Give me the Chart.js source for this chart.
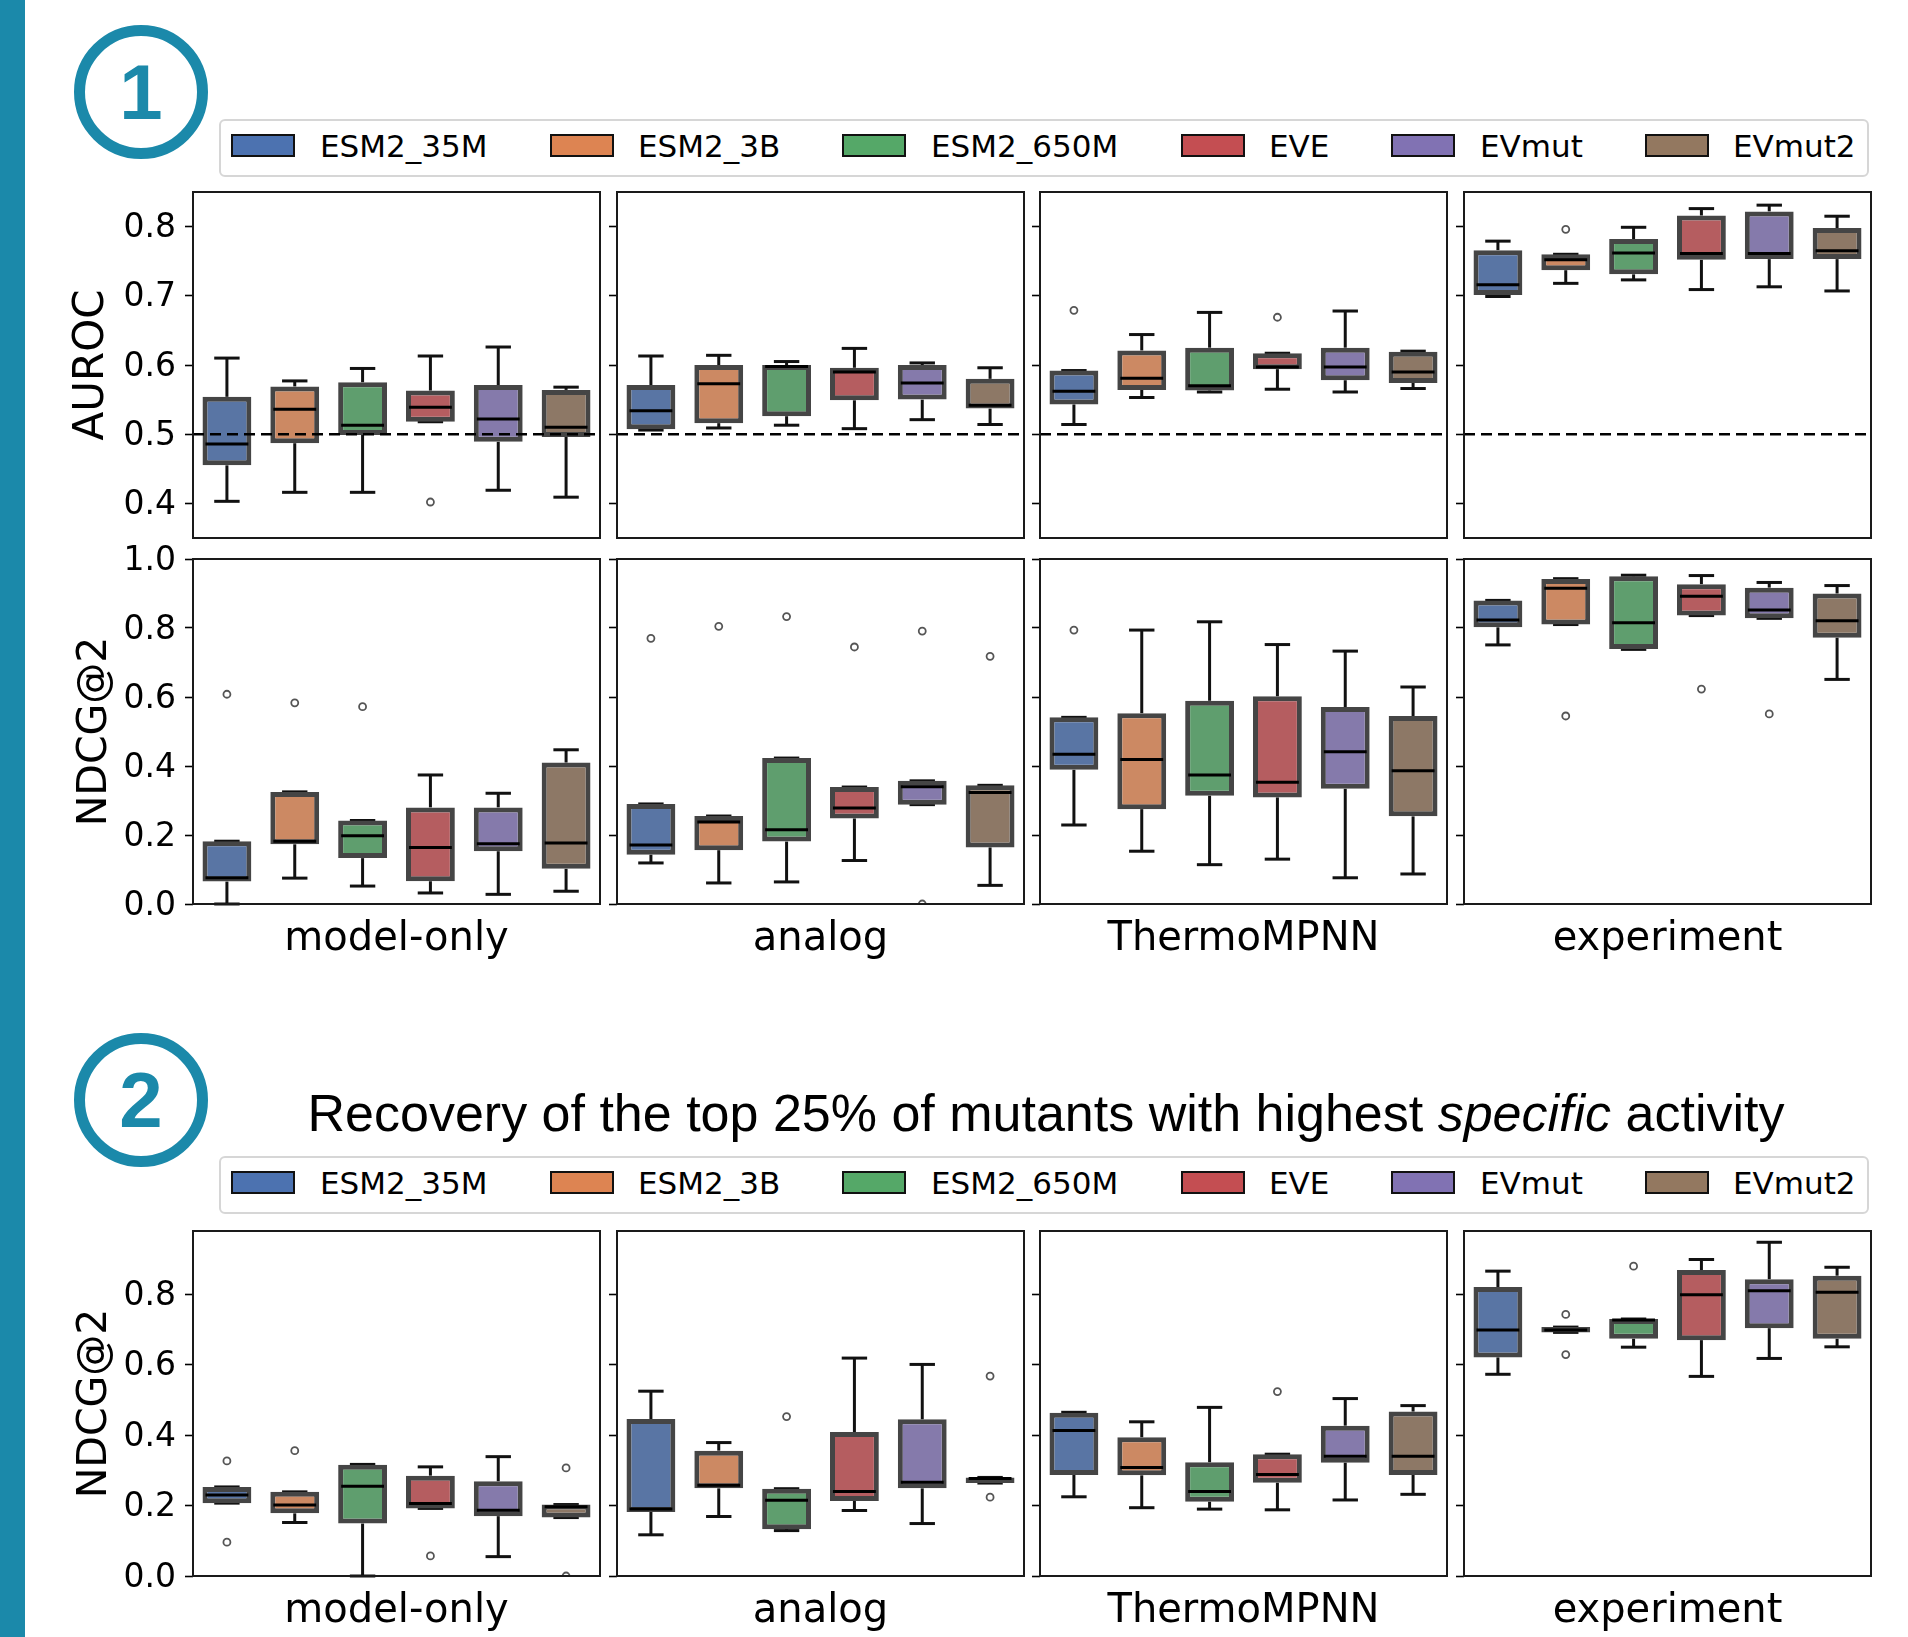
<!DOCTYPE html>
<html><head><meta charset="utf-8">
<script src="https://cdn.jsdelivr.net/npm/chart.js@4.4.0/dist/chart.umd.min.js"></script>
<style>
html,body{margin:0;padding:0;background:#fff;}
body{width:1908px;height:1637px;position:relative;overflow:hidden;font-family:'DejaVu Sans',sans-serif;}
.sidebar{position:absolute;left:0;top:0;width:25px;height:1637px;background:#1b89aa;}
.circ{position:absolute;left:74px;width:134px;height:134px;box-sizing:border-box;border:11px solid #1b89aa;border-radius:50%;display:flex;align-items:center;justify-content:center;color:#1b89aa;font-family:'Liberation Sans',Arial,sans-serif;font-weight:bold;font-size:78px;line-height:1;}
.legend{position:absolute;left:219px;width:1650px;height:58px;box-sizing:border-box;border:2px solid #d6d6d6;border-radius:6px;background:#fff;}
.sw{position:absolute;top:13px;width:64px;height:23px;box-sizing:border-box;border:2px solid #111;}
.lt{position:absolute;top:10px;font-size:31px;line-height:1;color:#000;white-space:nowrap;}
.title{position:absolute;top:1087px;left:1046px;transform:translateX(-50%);font-family:'Liberation Sans',Arial,sans-serif;font-size:52px;line-height:1;white-space:nowrap;color:#000;}
canvas{position:absolute;}
</style>
</head><body>
<div class="sidebar"></div>
<div class="circ" style="top:25px">1</div>
<div class="circ" style="top:1033px">2</div>
<div class="title">Recovery of the top 25% of mutants with highest <i>specific</i> activity</div>
<script>
// ---- categories / labels ----
const MODELS = ['ESM2_35M','ESM2_3B','ESM2_650M','EVE','EVmut','EVmut2'];
const METHODS = ['model-only','analog','ThermoMPNN','experiment'];
const LEGEND_COLORS = ['#4c72b0','#dd8452','#55a868','#c44e52','#8172b3','#937860'];
const BOX_COLORS = ['#5975a4','#cc8963','#5f9e6e','#b55d60','#857aab','#8d7866'];
const AUROC_TICKS = [0.4,0.5,0.6,0.7,0.8];
const NDCG_TICKS = [0.0,0.2,0.4,0.6,0.8,1.0];
const SPEC_TICKS = [0.0,0.2,0.4,0.6,0.8];

// ---- box statistics per model: [lower whisker, Q1, median, Q3, upper whisker] ----
// Section 1, AUROC
const auroc_model_only = [[0.403,0.455,0.486,0.554,0.610],[0.416,0.487,0.536,0.569,0.577],[0.416,0.499,0.513,0.575,0.595],[0.518,0.518,0.539,0.563,0.613],[0.419,0.489,0.522,0.571,0.626],[0.409,0.496,0.510,0.564,0.568]];
const auroc_model_only_out = [[],[],[],[0.402],[],[]];
const auroc_analog = [[0.506,0.507,0.534,0.571,0.613],[0.509,0.516,0.573,0.600,0.614],[0.513,0.526,0.598,0.600,0.605],[0.508,0.549,0.590,0.596,0.624],[0.521,0.550,0.574,0.600,0.603],[0.514,0.537,0.542,0.580,0.596]];
const auroc_analog_out = [[],[],[],[],[],[]];
const auroc_thermompnn = [[0.514,0.543,0.562,0.592,0.592],[0.553,0.564,0.581,0.621,0.644],[0.561,0.563,0.570,0.625,0.676],[0.565,0.594,0.597,0.617,0.617],[0.561,0.578,0.597,0.625,0.678],[0.566,0.574,0.590,0.619,0.620]];
const auroc_thermompnn_out = [[0.679],[],[],[0.669],[],[]];
const auroc_experiment = [[0.699,0.701,0.716,0.766,0.779],[0.718,0.737,0.752,0.760,0.760],[0.723,0.731,0.762,0.782,0.799],[0.709,0.752,0.761,0.816,0.826],[0.713,0.753,0.761,0.822,0.831],[0.707,0.753,0.765,0.798,0.815]];
const auroc_experiment_out = [[],[0.796],[],[],[],[]];
// Section 1, NDCG@2
const ndcg_model_only = [[0.0,0.065,0.076,0.182,0.182],[0.075,0.173,0.182,0.325,0.325],[0.052,0.133,0.198,0.242,0.242],[0.032,0.066,0.164,0.280,0.374],[0.028,0.153,0.175,0.280,0.321],[0.037,0.102,0.177,0.410,0.447]];
const ndcg_model_only_out = [[0.608],[0.583],[0.572],[],[],[]];
const ndcg_analog = [[0.119,0.143,0.171,0.290,0.290],[0.061,0.156,0.238,0.255,0.255],[0.064,0.181,0.215,0.423,0.423],[0.126,0.248,0.278,0.339,0.339],[0.288,0.288,0.340,0.357,0.357],[0.054,0.164,0.323,0.344,0.344]];
const ndcg_analog_out = [[0.770],[0.805],[0.833],[0.745],[0.791,0.0],[0.718]];
const ndcg_thermompnn = [[0.229,0.389,0.434,0.541,0.541],[0.153,0.275,0.419,0.553,0.794],[0.114,0.314,0.374,0.589,0.818],[0.130,0.309,0.353,0.602,0.752],[0.076,0.334,0.441,0.571,0.733],[0.087,0.254,0.386,0.545,0.629]];
const ndcg_thermompnn_out = [[0.794],[],[],[],[],[]];
const ndcg_experiment = [[0.751,0.802,0.823,0.880,0.880],[0.810,0.810,0.915,0.942,0.943],[0.738,0.739,0.815,0.950,0.953],[0.836,0.836,0.892,0.927,0.952],[0.828,0.828,0.852,0.917,0.932],[0.651,0.772,0.821,0.900,0.923]];
const ndcg_experiment_out = [[],[0.545],[],[0.623],[0.551],[]];
// Section 2, NDCG@2 (specific activity)
const spec_model_only = [[0.207,0.207,0.230,0.253,0.253],[0.152,0.178,0.202,0.239,0.239],[0.0,0.149,0.255,0.316,0.317],[0.192,0.192,0.206,0.285,0.310],[0.055,0.170,0.187,0.269,0.339],[0.166,0.166,0.197,0.203,0.203]];
const spec_model_only_out = [[0.327,0.096],[0.356],[],[0.057],[],[0.307,0.0]];
const spec_analog = [[0.117,0.182,0.190,0.446,0.525],[0.169,0.249,0.258,0.356,0.379],[0.129,0.133,0.215,0.248,0.248],[0.186,0.213,0.240,0.409,0.619],[0.149,0.249,0.266,0.445,0.601],[0.264,0.264,0.277,0.280,0.280]];
const spec_analog_out = [[],[],[0.453],[],[],[0.568,0.224]];
const spec_thermompnn = [[0.225,0.287,0.413,0.464,0.465],[0.194,0.286,0.308,0.394,0.438],[0.190,0.211,0.240,0.323,0.479],[0.188,0.265,0.288,0.346,0.346],[0.216,0.322,0.340,0.427,0.504],[0.232,0.287,0.340,0.467,0.484]];
const spec_thermompnn_out = [[],[],[],[0.524],[],[]];
const spec_experiment = [[0.573,0.621,0.699,0.821,0.866],[0.692,0.692,0.699,0.707,0.707],[0.650,0.674,0.727,0.730,0.730],[0.567,0.670,0.799,0.869,0.899],[0.618,0.704,0.810,0.843,0.948],[0.651,0.674,0.806,0.853,0.877]];
const spec_experiment_out = [[],[0.743,0.629],[0.880],[],[],[]];

// ---- legends (HTML) ----
const LEG_SW_X = [10,329,621,960,1170,1424];
const LEG_TX_X = [99,417,710,1048,1259,1512];
function makeLegend(top){
  const d = document.createElement('div');
  d.className = 'legend'; d.style.top = top + 'px';
  MODELS.forEach((m,i)=>{
    const s = document.createElement('div'); s.className='sw';
    s.style.left = LEG_SW_X[i]+'px'; s.style.background = LEGEND_COLORS[i];
    const t = document.createElement('div'); t.className='lt';
    t.style.left = LEG_TX_X[i]+'px'; t.textContent = m;
    d.appendChild(s); d.appendChild(t);
  });
  document.body.appendChild(d);
}
makeLegend(119);
makeLegend(1156);

// ---- box-plot drawing plugin (uses chart scales) ----
function seg(ctx,x1,y1,x2,y2){ctx.beginPath();ctx.moveTo(x1,y1);ctx.lineTo(x2,y2);ctx.stroke();}
const boxPlugin = {
  id:'boxplot',
  beforeDatasetsDraw(chart, args, opts){
    const {ctx, scales:{y}} = chart;
    const meta = chart.getDatasetMeta(0);
    ctx.save();
    ctx.strokeStyle = '#111'; ctx.lineWidth = 3; ctx.lineCap = 'butt';
    opts.stats.forEach((s,i)=>{
      const el = meta.data[i]; const cx = el.x; const cw = el.width*0.52;
      const yLo = y.getPixelForValue(s[0]), yQ1 = y.getPixelForValue(s[1]);
      const yQ3 = y.getPixelForValue(s[3]), yHi = y.getPixelForValue(s[4]);
      seg(ctx,cx,yQ3,cx,yHi); seg(ctx,cx,yQ1,cx,yLo);
      seg(ctx,cx-cw/2,yHi,cx+cw/2,yHi); seg(ctx,cx-cw/2,yLo,cx+cw/2,yLo);
    });
    ctx.restore();
  },
  afterDatasetsDraw(chart, args, opts){
    const {ctx, chartArea:a, scales:{y}} = chart;
    const meta = chart.getDatasetMeta(0);
    ctx.save();
    ctx.strokeStyle = '#000'; ctx.lineWidth = 3;
    opts.stats.forEach((s,i)=>{
      const el = meta.data[i]; const cx = el.x; const w = el.width;
      const yMed = y.getPixelForValue(s[2]);
      seg(ctx,cx-w/2+3,yMed,cx+w/2-3,yMed);
    });
    if (opts.chance !== null && opts.chance !== undefined){
      const yc = y.getPixelForValue(opts.chance);
      ctx.setLineDash([11,6]); ctx.lineWidth = 2.6; ctx.strokeStyle = '#000';
      seg(ctx,a.left,yc,a.right,yc);
      ctx.setLineDash([]);
    }
    ctx.strokeStyle = '#1a1a1a'; ctx.lineWidth = 2;
    ctx.strokeRect(a.left, a.top, a.right-a.left, a.bottom-a.top);
    ctx.restore();
  }
};

// ---- panels ----
const COL_LEFT = [193,617,1040,1464];
const PANEL_W = 407;
const PADT = 40;
function makePanel(p){
  const leftMargin = p.col===0 ? 133 : 12;
  const bottomMargin = p.xTitle ? 56 : 40;
  const PADR = 8;
  const cv = document.createElement('canvas');
  cv.width = leftMargin + PANEL_W + PADR;
  cv.height = PADT + p.h + bottomMargin;
  cv.style.left = (COL_LEFT[p.col]-leftMargin)+'px';
  cv.style.top = (p.top-PADT)+'px';
  document.body.appendChild(cv);
  const pts = [];
  p.out.forEach((arr,i)=>arr.forEach(v=>pts.push({x:MODELS[i], y:v})));
  new Chart(cv,{
    type:'bar',
    data:{labels:MODELS, datasets:[
      {type:'bar', label:'box', data:p.stats.map(s=>[s[1],s[3]]), backgroundColor:BOX_COLORS,
       borderColor:'#454545', borderWidth:5, borderSkipped:false, barPercentage:0.72, categoryPercentage:1, order:2},
      {type:'line', label:'outliers', data:pts, showLine:false, pointRadius:3.5, pointBorderWidth:1.8,
       pointBorderColor:'#555', pointBackgroundColor:'rgba(255,255,255,0)', order:1, clip:0}
    ]},
    options:{
      responsive:false, animation:false, devicePixelRatio:1,
      layout:{padding:{top:PADT,right:PADR,left:0,bottom:0}},
      plugins:{legend:{display:false}, tooltip:{enabled:false},
        boxplot:{stats:p.stats, chance:p.chance}},
      scales:{
        x:{offset:true, grid:{display:false}, border:{display:false}, ticks:{display:false},
           title:{display:!!p.xTitle, text:p.xTitle||'', color:'#000', padding:0,
             font:{family:'DejaVu Sans', size:40, lineHeight:1}},
           afterFit:s=>{s.height = bottomMargin;}},
        y:{min:p.yMin, max:p.yMax,
           afterBuildTicks:s=>{s.ticks = p.ticks.map(v=>({value:v}));},
           grid:{drawOnChartArea:false, drawTicks:true, tickLength:8, tickWidth:1.6, tickColor:'#000', color:'#000'},
           border:{display:false},
           ticks:{display:p.col===0, padding:9, labelOffset:2, color:'#000', font:{family:'DejaVu Sans', size:33},
             callback:v=>Number(v).toFixed(1)},
           title:{display:p.col===0, text:p.yTitle||'', color:'#000', padding:{top:p.yPad||0,bottom:0},
             font:{family:'DejaVu Sans', size:p.ySize||42, lineHeight:1}},
           afterFit:s=>{s.width = leftMargin;}}
      }
    },
    plugins:[boxPlugin]
  });
}

const ROW1 = [auroc_model_only, auroc_analog, auroc_thermompnn, auroc_experiment];
const ROW1_OUT = [auroc_model_only_out, auroc_analog_out, auroc_thermompnn_out, auroc_experiment_out];
const ROW2 = [ndcg_model_only, ndcg_analog, ndcg_thermompnn, ndcg_experiment];
const ROW2_OUT = [ndcg_model_only_out, ndcg_analog_out, ndcg_thermompnn_out, ndcg_experiment_out];
const ROW3 = [spec_model_only, spec_analog, spec_thermompnn, spec_experiment];
const ROW3_OUT = [spec_model_only_out, spec_analog_out, spec_thermompnn_out, spec_experiment_out];

for (let c=0;c<4;c++){
  makePanel({col:c, top:192, h:346, stats:ROW1[c], out:ROW1_OUT[c], yMin:0.35, yMax:0.85, ticks:AUROC_TICKS,
    yTitle:'AUROC', ySize:42, yPad:11, chance:0.5});
  makePanel({col:c, top:559, h:345, stats:ROW2[c], out:ROW2_OUT[c], yMin:0, yMax:1.0, ticks:NDCG_TICKS,
    yTitle:'NDCG@2', ySize:41, yPad:15, xTitle:METHODS[c], chance:null});
  makePanel({col:c, top:1231, h:345, stats:ROW3[c], out:ROW3_OUT[c], yMin:0, yMax:0.98, ticks:SPEC_TICKS,
    yTitle:'NDCG@2', ySize:41, yPad:15, xTitle:METHODS[c], chance:null});
}
</script>
</body></html>
